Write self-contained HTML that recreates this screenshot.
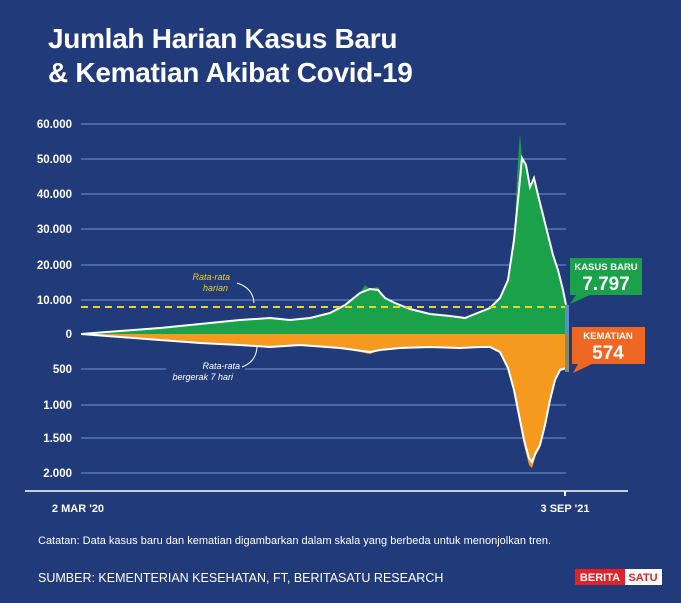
<!DOCTYPE html><html><head><meta charset="utf-8"><style>
body{margin:0;width:681px;height:603px;background:#213a79;font-family:"Liberation Sans",sans-serif;overflow:hidden;position:relative;color:#fff}
.t{position:absolute;left:48px;top:22px;font-size:28px;font-weight:bold;line-height:34px;letter-spacing:-0.3px}
</style></head><body>
<div class="t">Jumlah Harian Kasus Baru<br>&amp; Kematian Akibat Covid-19</div>
<svg width="681" height="603" fill="#fff" style="position:absolute;left:0;top:0">
<g stroke="#6f95d6" stroke-width="1">
<line x1="81" x2="566" y1="124" y2="124"/><line x1="81" x2="566" y1="159" y2="159"/><line x1="81" x2="566" y1="194" y2="194"/><line x1="81" x2="566" y1="229" y2="229"/><line x1="81" x2="566" y1="265" y2="265"/><line x1="81" x2="566" y1="300" y2="300"/>
<line x1="81" x2="166" y1="369" y2="369"/><line x1="245" x2="566" y1="369" y2="369"/><line x1="81" x2="566" y1="405" y2="405"/><line x1="81" x2="566" y1="438" y2="438"/><line x1="81" x2="566" y1="473" y2="473"/>
</g>
<g font-size="11.5" font-weight="bold" fill="#fff" text-anchor="end">
<text x="72" y="128">60.000</text><text x="72" y="163">50.000</text><text x="72" y="198">40.000</text><text x="72" y="233">30.000</text><text x="72" y="269">20.000</text><text x="72" y="304">10.000</text><text x="72" y="338">0</text><text x="72" y="373">500</text><text x="72" y="409">1.000</text><text x="72" y="442">1.500</text><text x="72" y="477">2.000</text>
</g>
<path fill="#1aa14a" d="M81,334 L120,331 160,328 200,324 240,320 270,318 290,320 310,318 330,313 345,305 360,293 365,285 370,289 378,287 385,298 395,303 410,309 430,314 450,316 465,318 475,314 490,308 500,298 508,280 514,240 518,160 520,134 522,158 526,165 530,187 534,178 538,195 543,215 548,235 553,255 558,270 563,290 566,305 566,334Z"/>
<path fill="#f6991f" d="M81,334 L120,337 160,340 200,343 240,345 270,347 300,345 340,348 370,354 380,350 400,348 430,347 460,348 480,347 490,347 500,352 508,368 514,390 519,415 524,445 529,465 532,468 536,455 540,448 545,425 550,400 555,380 560,370 566,368 566,334Z"/>
<polyline fill="none" stroke="#fff" stroke-width="2" points="81,334 120,331 160,328 200,324 240,320 270,318 290,320 310,318 330,313 345,305 360,293 370,289 378,290 385,298 395,303 410,309 430,314 450,316 465,318 475,314 490,308 500,298 508,280 514,240 518,200 522,158 526,165 530,187 534,178 538,195 543,215 548,235 553,255 558,270 563,290 566,305"/>
<polyline fill="none" stroke="#fff" stroke-width="2" points="81,334 120,337 160,340 200,343 240,345 270,347 300,345 340,348 370,352 380,350 400,348 430,347 460,348 480,347 490,347 500,352 508,368 514,390 519,415 524,440 529,458 532,462 536,452 540,445 545,425 550,400 555,380 560,370 566,368"/>
<line x1="81" x2="566" y1="307" y2="307" stroke="#f2d21a" stroke-width="2" stroke-dasharray="7,5"/>
<rect x="565" y="305" width="4" height="29" fill="#5a8fcf"/><rect x="565" y="334" width="4" height="38" fill="#8a8a6a"/>
<line x1="25" x2="628" y1="491" y2="491" stroke="#fff" stroke-width="1.5"/><line x1="565" x2="565" y1="491" y2="496" stroke="#fff" stroke-width="2"/>
<text x="78" y="512" font-size="11" font-weight="bold" text-anchor="middle">2 MAR '20</text>
<text x="565" y="512" font-size="11" font-weight="bold" text-anchor="middle">3 SEP '21</text>
<g font-size="9" font-style="italic"><text x="230" y="280" fill="#f2d21a" text-anchor="end">Rata-rata</text><text x="228" y="291" fill="#f2d21a" text-anchor="end">harian</text>
<text x="240" y="369" fill="#fff" text-anchor="end">Rata-rata</text><text x="233" y="380" fill="#fff" text-anchor="end">bergerak 7 hari</text></g>
<path d="M254,303 Q253,288 237,283" fill="none" stroke="#fff" stroke-width="1"/>
<path d="M257,347 Q256,362 242,367" fill="none" stroke="#fff" stroke-width="1"/>
<rect x="570" y="258" width="72" height="37" fill="#1aa14a"/><path d="M576,295 L570,304 L590,295Z" fill="#1aa14a"/>
<text x="606" y="270" font-size="9.5" font-weight="bold" text-anchor="middle">KASUS BARU</text>
<text x="606" y="290" font-size="19" font-weight="bold" text-anchor="middle">7.797</text>
<rect x="572" y="327" width="73" height="37" fill="#ef6823"/><path d="M578,364 L573,373 L592,364Z" fill="#ef6823"/>
<text x="608" y="339" font-size="9.5" font-weight="bold" text-anchor="middle">KEMATIAN</text>
<text x="608" y="359" font-size="19" font-weight="bold" text-anchor="middle">574</text>
<text x="38" y="544" font-size="11">Catatan: Data kasus baru dan kematian digambarkan dalam skala yang berbeda untuk menonjolkan tren.</text>
<text x="38" y="582" font-size="12.5">SUMBER: KEMENTERIAN KESEHATAN, FT, BERITASATU RESEARCH</text>
<rect x="575" y="569" width="50" height="16" fill="#e32227"/><rect x="625" y="569" width="37" height="16" fill="#fff"/>
<text x="600" y="581" font-size="11" font-weight="bold" text-anchor="middle">BERITA</text>
<text x="643" y="581" font-size="11" font-weight="bold" fill="#e32227" text-anchor="middle">SATU</text>
</svg>
</body></html>
